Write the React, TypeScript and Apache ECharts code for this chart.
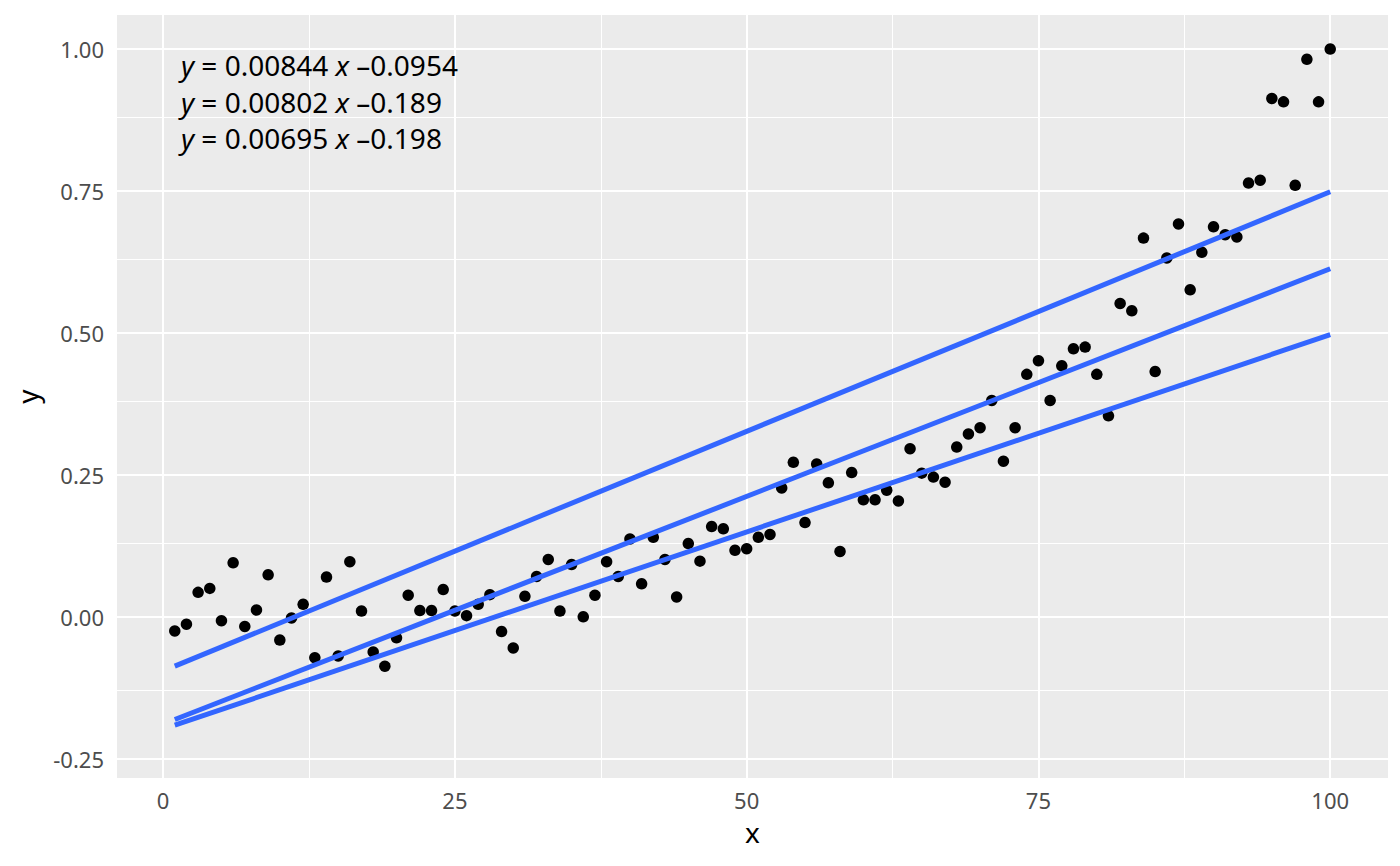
import React, { useEffect, useRef } from "react";
import * as echarts from "echarts";

// Observed y for x = 1..100
const yValues: number[] = [
  -0.025, -0.013, 0.043, 0.05, -0.007, 0.095, -0.017, 0.012, 0.074, -0.041,
  -0.002, 0.022, -0.072, 0.07, -0.069, 0.097, 0.01, -0.062, -0.087, -0.037,
  0.038, 0.011, 0.011, 0.048, 0.01, 0.002, 0.022, 0.039, -0.026, -0.055,
  0.036, 0.071, 0.101, 0.01, 0.092, 0.0, 0.038, 0.097, 0.071, 0.137,
  0.058, 0.14, 0.101, 0.035, 0.129, 0.098, 0.159, 0.155, 0.117, 0.12,
  0.14, 0.145, 0.227, 0.272, 0.166, 0.269, 0.236, 0.115, 0.254, 0.206,
  0.206, 0.223, 0.204, 0.296, 0.253, 0.246, 0.237, 0.299, 0.322, 0.333,
  0.381, 0.274, 0.333, 0.427, 0.451, 0.381, 0.442, 0.472, 0.475, 0.427,
  0.354, 0.552, 0.539, 0.667, 0.432, 0.632, 0.692, 0.576, 0.642, 0.687,
  0.673, 0.669, 0.764, 0.769, 0.913, 0.907, 0.76, 0.982, 0.907, 1.0,
];
const xValues: number[] = yValues.map((_, i) => i + 1);

const xTicks = [0, 25, 50, 75, 100];
const xMinor = [12.5, 37.5, 62.5, 87.5];
const yTicks = [-0.25, 0, 0.25, 0.5, 0.75, 1.0];
const yMinor = [-0.125, 0.125, 0.375, 0.625, 0.875];

// Fitted lines (quantile regressions) shown in the chart
const slopes = [0.00844, 0.00802, 0.00695];
const intercepts = [-0.0954, -0.189, -0.198];
const slopeLabels = ["0.00844", "0.00802", "0.00695"];
const interceptLabels = ["0.0954", "0.189", "0.198"];
const lineRange = [1, 100];

const FONT = "'Noto Sans', 'Open Sans', sans-serif";

export default function App() {
  const ref = useRef<HTMLDivElement>(null);

  useEffect(() => {
    if (!ref.current) return;
    const chart = echarts.init(ref.current, undefined, { renderer: "svg" });

    const gridLines = [
      ...xMinor.map((v) => ({ xAxis: v, lineStyle: { width: 1 } })),
      ...yMinor.map((v) => ({ yAxis: v, lineStyle: { width: 1 } })),
      ...xTicks.map((v) => ({ xAxis: v, lineStyle: { width: 2 } })),
      ...yTicks.map((v) => ({ yAxis: v, lineStyle: { width: 2 } })),
    ];

    const lineSeries = slopes.map((s, k) => ({
      type: "line",
      name: "q" + k,
      data: lineRange.map((x) => [x, s * x + intercepts[k]]),
      symbol: "none",
      silent: true,
      z: 4,
      lineStyle: { color: "#3366FF", width: 5, cap: "butt" },
    }));

    const equations = slopes.map((_, k) => ({
      type: "text",
      x: 181,
      y: 65 + k * 36.7,
      z: 20,
      silent: true,
      style: {
        text: `{i|y} = ${slopeLabels[k]} {i|x} \u2013${interceptLabels[k]}`,
        fontSize: 28,
        fontFamily: FONT,
        fill: "#000000",
        verticalAlign: "middle",
        align: "left",
        rich: {
          i: { fontStyle: "italic", fontSize: 28, fontFamily: FONT, fill: "#000000" },
        },
      },
    }));

    const option: any = {
      animation: false,
      backgroundColor: "#FFFFFF",
      grid: {
        left: 117,
        right: 12,
        top: 15,
        bottom: 88,
        show: true,
        backgroundColor: "#EBEBEB",
        borderWidth: 0,
        containLabel: false,
      },
      xAxis: {
        type: "value",
        min: -3.95,
        max: 104.95,
        name: "x",
        nameLocation: "middle",
        nameGap: 40,
        nameTextStyle: { fontSize: 28, color: "#000000", fontFamily: FONT },
        axisLine: { show: false },
        axisTick: {
          show: true,
          length: 7,
          customValues: xTicks,
          lineStyle: { color: "#333333", width: 2 },
        },
        axisLabel: {
          customValues: xTicks,
          fontSize: 22,
          color: "#4D4D4D",
          margin: 11,
          fontFamily: FONT,
          formatter: (v: number) => String(v),
        },
        splitLine: { show: false },
      },
      yAxis: {
        type: "value",
        min: -0.284,
        max: 1.06,
        name: "y",
        nameLocation: "middle",
        nameGap: 76,
        nameRotate: 90,
        nameTextStyle: { fontSize: 28, color: "#000000", fontFamily: FONT },
        axisLine: { show: false },
        axisTick: {
          show: true,
          length: 7,
          customValues: yTicks,
          lineStyle: { color: "#333333", width: 2 },
        },
        axisLabel: {
          customValues: yTicks,
          fontSize: 22,
          color: "#4D4D4D",
          margin: 13,
          fontFamily: FONT,
          formatter: (v: number) => v.toFixed(2),
        },
        splitLine: { show: false },
      },
      series: [
        {
          type: "scatter",
          name: "points",
          data: xValues.map((x, i) => [x, yValues[i]]),
          symbol: "circle",
          symbolSize: 11.5,
          itemStyle: { color: "#000000", opacity: 1 },
          silent: true,
          z: 3,
          markLine: {
            z: 1,
            silent: true,
            animation: false,
            symbol: ["none", "none"],
            label: { show: false },
            emphasis: { disabled: true },
            lineStyle: { color: "#FFFFFF", type: "solid", width: 2 },
            data: gridLines,
          },
        },
        ...lineSeries,
      ],
      graphic: equations,
    };

    chart.setOption(option);
    return () => chart.dispose();
  }, []);

  return (
    <div
      ref={ref}
      style={{ position: "absolute", left: 0, top: 0, width: 1400, height: 866 }}
    />
  );
}
